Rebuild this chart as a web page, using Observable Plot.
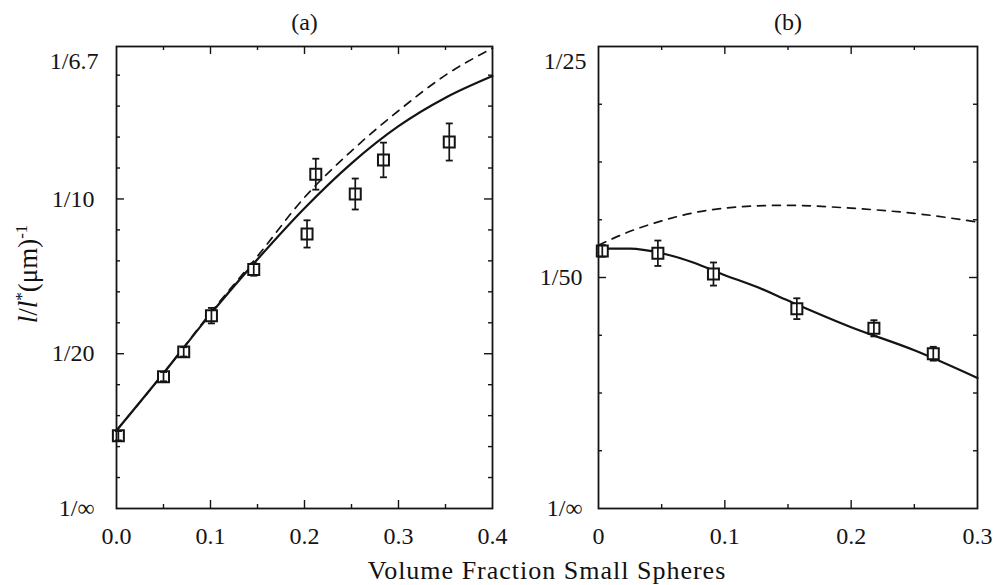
<!DOCTYPE html>
<html>
<head>
<meta charset="utf-8">
<script src="https://cdn.jsdelivr.net/npm/d3@7"></script>
<script src="https://cdn.jsdelivr.net/npm/@observablehq/plot@0.6"></script>
<style>
  body { margin: 0; background: #fff; }
  #wrap { position: relative; width: 996px; height: 585px; font-family: "Liberation Serif", "DejaVu Serif", serif; color: #111; overflow: hidden; }
  #wrap svg { overflow: visible; }
  #wrap svg text { font-family: "Liberation Serif", serif; }
  #pa { position: absolute; left: 0; top: 0; }
  #pb { position: absolute; left: 496px; top: 0; }
  #xlabel { position: absolute; left: 247px; width: 600px; top: 556px; text-align: center; font-size: 26px; line-height: 30px; letter-spacing: 1px; }
  #ylabel { position: absolute; left: 25px; top: 274px; transform: translate(-50%, -50%) rotate(-90deg); white-space: nowrap; font-size: 27px; line-height: 28px; }
  #ylabel sup { font-size: 17px; }
</style>
</head>
<body>
<div id="wrap">
  <div id="pa"></div>
  <div id="pb"></div>
  <div id="ylabel"><i>l</i>/<i>l</i><sup>*</sup>(μm)<sup>-1</sup></div>
  <div id="xlabel">Volume Fraction Small Spheres</div>
</div>
<script>
// ---------- Panel (a) data ----------
const aTitle = "(a)";
const aPtX   = [0.002, 0.050, 0.0715, 0.101, 0.146, 0.2027, 0.212, 0.254, 0.284, 0.354];
const aPtY   = [0.0235, 0.0426, 0.0506, 0.0623, 0.0772, 0.0887, 0.1080, 0.1016, 0.1126, 0.1184];
const aPtErr = [0.0015, 0.0015, 0.0015, 0.0025, 0.0020, 0.0044, 0.0050, 0.0050, 0.0056, 0.0060];
const aLineX  = [0, 0.05, 0.1, 0.15, 0.2, 0.25, 0.3, 0.35, 0.4];
const aSolidY = [0.0252, 0.0437, 0.0628, 0.0805, 0.0970, 0.1115, 0.1235, 0.1327, 0.1397];
const aDashY  = [0.0252, 0.0437, 0.0632, 0.0815, 0.1005, 0.1155, 0.1285, 0.1400, 0.1487];
const aXTicks = [0, 0.1, 0.2, 0.3, 0.4];
const aXTickLabels = ["0.0", "0.1", "0.2", "0.3", "0.4"];
const aXMajor = [0.1, 0.2, 0.3];
const aXMinor = [0.05, 0.15, 0.25, 0.35];
const aYTicks = [0, 0.05, 0.1];
const aYTickLabels = ["1/∞", "1/20", "1/10"];
const aYTop = 1 / 6.7;
const aYTopLabel = "1/6.7";
const aYMajor = [0.05, 0.1];
const aYMinor = [0.01, 0.02, 0.03, 0.04, 0.06, 0.07, 0.08, 0.09, 0.11, 0.12, 0.13, 0.14];

// ---------- Panel (b) data ----------
const bTitle = "(b)";
const bPtX   = [0.003, 0.047, 0.091, 0.157, 0.218, 0.265];
const bPtY   = [0.0223, 0.0221, 0.0203, 0.0173, 0.0156, 0.0134];
const bPtErr = [0.0005, 0.0011, 0.0010, 0.0009, 0.0007, 0.0006];
const bLineX  = [0, 0.025, 0.05, 0.075, 0.1, 0.125, 0.15, 0.2, 0.25, 0.3];
const bSolidY = [0.0225, 0.0225, 0.0221, 0.0213, 0.0202, 0.0192, 0.0180, 0.0157, 0.0137, 0.0113];
const bDashY  = [0.0228, 0.0240, 0.0249, 0.0256, 0.0260, 0.0262, 0.02625, 0.0260, 0.02555, 0.0248];
const bXTicks = [0, 0.1, 0.2, 0.3];
const bXTickLabels = ["0", "0.1", "0.2", "0.3"];
const bXMajor = [0.1, 0.2];
const bXMinor = [0.05, 0.15, 0.25];
const bYTicks = [0, 0.02];
const bYTickLabels = ["1/∞", "1/50"];
const bYTop = 0.04;
const bYTopLabel = "1/25";
const bYMajor = [0.02];
const bYMinor = [0.005, 0.01, 0.015, 0.025, 0.03, 0.035];

const ink = "#141414";
const capSymbol = { draw(ctx) { ctx.moveTo(-3.5, 0); ctx.lineTo(3.5, 0); } };

function panel(cfg) {
  const W = 500, H = 585, mt = 46, mb = 77;
  const pw = W - cfg.ml - cfg.mr, ph = H - mt - mb;
  const pts = cfg.px.map((x, i) => ({x, y: cfg.py[i], lo: cfg.py[i] - cfg.pe[i], hi: cfg.py[i] + cfg.pe[i]}));
  const solid = cfg.lx.map((x, i) => ({x, y: cfg.sy[i]}));
  const dash = cfg.lx.map((x, i) => ({x, y: cfg.dy[i]}));
  const xFmt = new Map(cfg.xt.map((d, i) => [d, cfg.xl[i]]));
  const yFmt = new Map(cfg.yt.map((d, i) => [d, cfg.yl[i]]));
  const tick = (arr, opts) => Plot.tickY(arr, {y: d => d, stroke: ink, strokeWidth: 1.4, ...opts});
  const tickx = (arr, opts) => Plot.tickX(arr, {x: d => d, stroke: ink, strokeWidth: 1.4, ...opts});
  return Plot.plot({
    width: W, height: H, marginLeft: cfg.ml, marginRight: cfg.mr, marginTop: mt, marginBottom: mb,
    x: {domain: cfg.xd},
    y: {domain: [0, cfg.ytop]},
    style: {fontFamily: "Liberation Serif, serif", color: ink, background: "transparent", overflow: "visible"},
    marks: [
      Plot.axisX(cfg.xt, {tickSize: 0, tickPadding: 18, tickFormat: d => xFmt.get(d), fontSize: 24, label: null}),
      Plot.axisY(cfg.yt, {tickSize: 0, tickPadding: cfg.tp, tickFormat: d => yFmt.get(d), fontSize: 24, label: null}),
      Plot.axisY([cfg.ytop], {tickSize: 0, tickPadding: cfg.tp - 4, dy: 15, tickFormat: () => cfg.ytopLabel, fontSize: 24, label: null}),
      // inward ticks
      tick(cfg.ymaj, {insetRight: pw - 8}), tick(cfg.ymaj, {insetLeft: pw - 8}),
      tick(cfg.ymin, {insetRight: pw - 4}), tick(cfg.ymin, {insetLeft: pw - 4}),
      tickx(cfg.xmaj, {insetTop: ph - 8}), tickx(cfg.xmaj, {insetBottom: ph - 8}),
      tickx(cfg.xmin, {insetTop: ph - 4}), tickx(cfg.xmin, {insetBottom: ph - 4}),
      Plot.line(dash, {x: "x", y: "y", curve: "monotone-x", stroke: ink, strokeWidth: 1.7, strokeDasharray: "8,7"}),
      Plot.line(solid, {x: "x", y: "y", curve: "monotone-x", stroke: ink, strokeWidth: 2.2}),
      Plot.dot(pts, {x: "x", y: "y", symbol: "square", r: 6.2, fill: "white", stroke: ink, strokeWidth: 2}),
      Plot.ruleX(pts, {x: "x", y1: "lo", y2: "hi", stroke: ink, strokeWidth: 1.7}),
      Plot.dot(pts, {x: "x", y: "lo", symbol: capSymbol, stroke: ink, strokeWidth: 1.8, fill: "none"}),
      Plot.dot(pts, {x: "x", y: "hi", symbol: capSymbol, stroke: ink, strokeWidth: 1.8, fill: "none"}),
      Plot.frame({stroke: ink, strokeWidth: 1.8}),
      Plot.text([cfg.title], {frameAnchor: "top", lineAnchor: "middle", dy: -24, fontSize: 24, fill: ink})
    ]
  });
}

document.getElementById("pa").append(panel({
  ml: 116, mr: 8, tp: 22, xd: [0, 0.4], ytop: aYTop, ytopLabel: aYTopLabel,
  px: aPtX, py: aPtY, pe: aPtErr, lx: aLineX, sy: aSolidY, dy: aDashY,
  xt: aXTicks, xl: aXTickLabels, yt: aYTicks, yl: aYTickLabels,
  xmaj: aXMajor, xmin: aXMinor, ymaj: aYMajor, ymin: aYMinor, title: aTitle
}));
document.getElementById("pb").append(panel({
  ml: 102, mr: 19, tp: 16, xd: [0, 0.3], ytop: bYTop, ytopLabel: bYTopLabel,
  px: bPtX, py: bPtY, pe: bPtErr, lx: bLineX, sy: bSolidY, dy: bDashY,
  xt: bXTicks, xl: bXTickLabels, yt: bYTicks, yl: bYTickLabels,
  xmaj: bXMajor, xmin: bXMinor, ymaj: bYMajor, ymin: bYMinor, title: bTitle
}));
</script>
</body>
</html>
